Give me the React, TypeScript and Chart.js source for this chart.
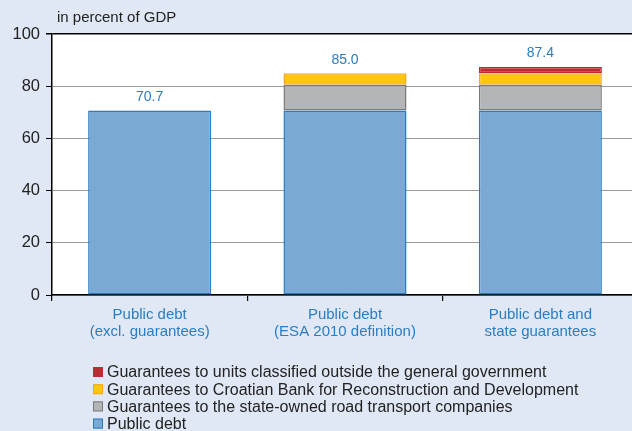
import React, { useEffect, useRef } from "react";
import { Chart, registerables } from "chart.js";

Chart.register(...registerables);

const categories: string[][] = [
  ["Public debt", "(excl. guarantees)"],
  ["Public debt", "(ESA 2010 definition)"],
  ["Public debt and", "state guarantees"],
];
const publicDebt: (number | null)[] = [70.7, 70.7, 70.7];
const roadCompanies: (number | null)[] = [null, 9.9, 9.9];
const hbor: (number | null)[] = [null, 4.4, 4.4];
const outsideGG: (number | null)[] = [null, null, 2.4];
const totals: number[] = [70.7, 85.0, 87.4];
const yTicks: number[] = [0, 20, 40, 60, 80, 100];

const seriesNames = [
  "Public debt",
  "Guarantees to the state-owned road transport companies",
  "Guarantees to Croatian Bank for Reconstruction and Development",
  "Guarantees to units classified outside the general government",
];
const fills = ["#7AAAD4", "#B3B5B6", "#FFC60B", "#BD2A31"];
const borders = ["#2A7CC0", "#7A7A7A", "#F5A623", "#BD2A31"];

const FONT = "'Liberation Sans', Arial, sans-serif";
const BG = "#E1E8F5";

export default function App() {
  const ref = useRef<HTMLCanvasElement>(null);
  useEffect(() => {
    if (!ref.current) return;
    const data = [publicDebt, roadCompanies, hbor, outsideGG];
    const bgPlugin = {
      id: "bg",
      beforeDraw(chart: any) {
        const { ctx, chartArea: a } = chart;
        ctx.save();
        ctx.fillStyle = BG;
        ctx.fillRect(0, 0, chart.width, chart.height);
        ctx.fillStyle = "#FFFFFF";
        ctx.fillRect(a.left, a.top, a.right - a.left, a.bottom - a.top);
        ctx.restore();
      },
    };
    const labelPlugin = {
      id: "labels",
      afterDatasetsDraw(chart: any) {
        const { ctx } = chart;
        const y = chart.scales.y;
        const x = chart.scales.x;
        ctx.save();
        ctx.font = `14px ${FONT}`;
        ctx.fillStyle = "#2A7DC2";
        ctx.textAlign = "center";
        ctx.textBaseline = "middle";
        totals.forEach((t, i) => {
          ctx.fillText(t.toFixed(1), x.getPixelForValue(i), y.getPixelForValue(t) - 13.5);
        });
        ctx.restore();
      },
      afterDraw(chart: any) {
        const { ctx } = chart;
        ctx.save();
        ctx.font = `15px ${FONT}`;
        ctx.fillStyle = "#222222";
        ctx.textAlign = "left";
        ctx.textBaseline = "middle";
        ctx.fillText("in percent of GDP", 57, 18);
        ctx.font = `16px ${FONT}`;
        const order = [3, 2, 1, 0];
        order.forEach((d, r) => {
          const cy = 372 + r * 17.2;
          ctx.fillStyle = fills[d];
          ctx.fillRect(93, cy - 5, 10, 10);
          ctx.strokeStyle = borders[d];
          ctx.lineWidth = 1;
          ctx.strokeRect(93.5, cy - 4.5, 9, 9);
          ctx.fillStyle = "#222222";
          ctx.fillText(seriesNames[d], 107, cy + 1);
        });
        ctx.restore();
      },
    };
    const chart = new Chart(ref.current, {
      type: "bar",
      data: {
        labels: categories,
        datasets: data.map((d, i) => ({
          label: seriesNames[i],
          data: d,
          backgroundColor: fills[i],
          borderColor: borders[i],
          borderWidth: 1.5,
          borderSkipped: false,
          inflateAmount: 0,
          categoryPercentage: 1,
          barPercentage: 0.63,
        })),
      },
      options: {
        animation: false,
        responsive: false,
        layout: { padding: { top: 34, left: 0, right: 2, bottom: 86 } },
        plugins: {
          legend: { display: false },
          tooltip: { enabled: false },
          title: { display: false },
        },
        scales: {
          x: {
            stacked: true,
            grid: {
              offset: true,
              drawOnChartArea: false,
              color: "#000",
              tickColor: "#000",
              tickLength: 6,
              lineWidth: 1.2,
            },
            border: { display: true, color: "#000", width: 1.5 },
            ticks: {
              color: "#2A7DC2",
              font: { size: 15, family: FONT, lineHeight: 1.1 },
              padding: 6,
              maxRotation: 0,
            },
            afterFit(scale: any) {
              scale.height = 50;
            },
          },
          y: {
            stacked: true,
            min: 0,
            max: 100,
            afterBuildTicks(scale: any) {
              scale.ticks = yTicks.map((v) => ({ value: v }));
            },
            grid: {
              color: (c: any) => (c.tick && c.tick.value === 100 ? "#000" : "#9A9A9A"),
              lineWidth: (c: any) => (c.tick && c.tick.value === 100 ? 1.5 : 1),
              tickColor: "#000",
              tickLength: 6,
            },
            border: { display: true, color: "#000", width: 1.5 },
            ticks: {
              color: "#222222",
              font: { size: 16.5, family: FONT },
              padding: 6,
            },
            afterFit(scale: any) {
              scale.width = 52;
            },
          },
        },
      },
      plugins: [bgPlugin, labelPlugin],
    });
    return () => chart.destroy();
  }, []);
  return (
    <div
      style={{
        position: "fixed",
        left: 0,
        top: 0,
        width: 632,
        height: 431,
        overflow: "hidden",
        background: BG,
      }}
    >
      <canvas ref={ref} width={640} height={431} style={{ width: 640, height: 431, display: "block" }} />
    </div>
  );
}
